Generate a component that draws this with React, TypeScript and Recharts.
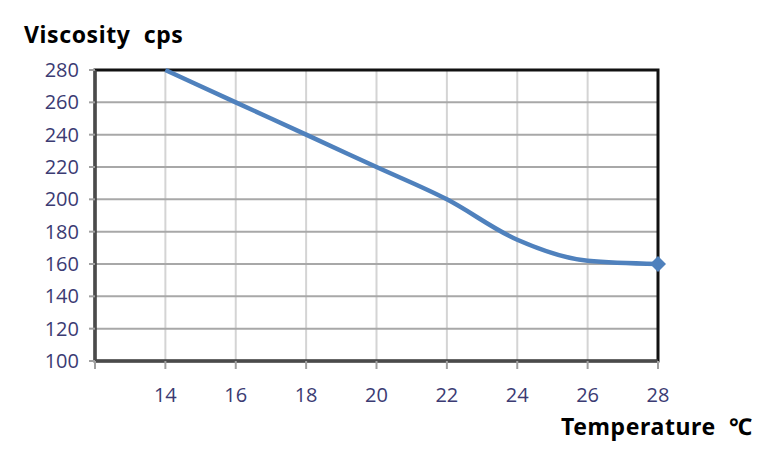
import { LineChart, Line, XAxis, YAxis, CartesianGrid, ReferenceArea } from 'recharts';

const temperatures = [14, 16, 18, 20, 22, 24, 26, 28];
const viscosity = [280, 260, 240, 220, 200, 175, 162, 160];
const xTicks = [12, 14, 16, 18, 20, 22, 24, 26, 28];
const yTicks = [100, 120, 140, 160, 180, 200, 220, 240, 260, 280];

const data = temperatures.map((t, i) => ({ t, v: viscosity[i] }));

const tickStyle = { fill: '#3b3b73', fontSize: 20, fontFamily: 'Open Sans, sans-serif' };
const titleStyle = {
  position: 'absolute' as const,
  fontFamily: 'Noto Sans, sans-serif',
  fontWeight: 700,
  fontSize: 23,
  letterSpacing: 0.6,
  color: '#000',
  whiteSpace: 'pre' as const,
  lineHeight: 'normal',
};

const LastDiamond = (props: any) => {
  const { cx, cy, index } = props;
  if (index !== data.length - 1) return <g key={index} />;
  const r = 8;
  return (
    <path
      key={index}
      d={`M${cx},${cy - r} L${cx + r},${cy} L${cx},${cy + r} L${cx - r},${cy} Z`}
      fill="#4f81bd"
    />
  );
};

export default function App() {
  return (
    <div style={{ position: 'absolute', left: 0, top: 0, width: 763, height: 455, background: '#fff' }}>
      <LineChart width={763} height={455} data={data} margin={{ top: 70, right: 105, bottom: 64, left: 55 }}>
        <CartesianGrid horizontal={false} stroke="#d4d4d4" strokeWidth={2} />
        <CartesianGrid vertical={false} stroke="#a8a8a8" strokeWidth={2} />
        <XAxis
          dataKey="t"
          type="number"
          domain={[12, 28]}
          ticks={xTicks}
          tickFormatter={(v) => (v === 12 ? '' : String(v))}
          height={30}
          tick={tickStyle}
          fontSize={20}
          fontFamily="Open Sans, sans-serif"
          tickSize={8}
          tickMargin={19}
          axisLine={{ stroke: '#4a4a4a', strokeWidth: 3 }}
          tickLine={{ stroke: '#a0a0a0', strokeWidth: 2 }}
        />
        <YAxis
          type="number"
          domain={[100, 280]}
          ticks={yTicks}
          width={40}
          tick={tickStyle}
          fontSize={20}
          fontFamily="Open Sans, sans-serif"
          tickSize={6}
          tickMargin={10}
          axisLine={{ stroke: '#4a4a4a', strokeWidth: 3 }}
          tickLine={{ stroke: '#a0a0a0', strokeWidth: 2 }}
        />
        <ReferenceArea x1={12} x2={28} y1={100} y2={280} fill="none" fillOpacity={0} stroke="#111" strokeWidth={3} ifOverflow="visible" />
        <Line
          dataKey="v"
          type="monotone"
          stroke="#4f81bd"
          strokeWidth={4.5}
          dot={LastDiamond}
          activeDot={false}
          isAnimationActive={false}
        />
      </LineChart>
      <div style={{ ...titleStyle, left: 24, top: 18 }}>{'Viscosity  cps'}</div>
      <div style={{ ...titleStyle, left: 561, top: 410 }}>{'Temperature  ℃'}</div>
    </div>
  );
}
